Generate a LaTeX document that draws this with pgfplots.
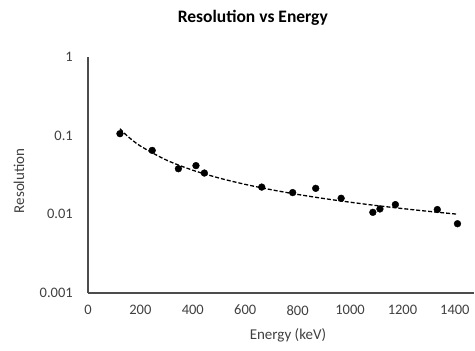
\documentclass[border=0pt]{standalone}
\usepackage{fontspec}
\setmainfont{Carlito}
\usepackage{pgfplots}
\pgfplotsset{compat=1.18}
\begin{document}
\begin{tikzpicture}
\path[use as bounding box] (-88pt,-58pt) rectangle (387pt,293pt);
\begin{axis}[
  at={(0,0)}, anchor=south west,
  scale only axis,
  width=386pt, height=236pt,
  xmin=0, xmax=1473,
  ymode=log, ymin=0.001, ymax=1,
  axis x line*=bottom, axis y line*=left,
  axis line style={draw=black!70, line width=1.2pt},
  every outer x axis line/.append style={-}, every outer y axis line/.append style={-},
  xtick={0,200,...,1400},
  ytick={0.001,0.01,0.1,1},
  yticklabels={0.001,0.01,0.1,1},
  minor ytick={},
  major tick length=0pt,
  tick style={draw=none},
  /pgf/number format/assume math mode=true,
  /pgf/number format/set thousands separator={},
  ticklabel style={font=\fontsize{14.5}{17}\selectfont, text=black!75},
  xticklabel style={anchor=north, inner sep=0pt, yshift=-12pt},
  yticklabel style={anchor=east, inner sep=0pt, xshift=-15pt},
  title={\textbf{Resolution vs Energy}},
  title style={font=\fontsize{17.5}{21}\selectfont, at={(axis description cs:0.427,1.14)}, anchor=center, inner sep=0pt},
  xlabel={Energy (keV)},
  xlabel style={font=\fontsize{15}{18}\selectfont, text=black!75, at={(axis description cs:0.518,-0.178)}, anchor=center, inner sep=0pt},
  ylabel={Resolution},
  ylabel style={font=\fontsize{15}{18}\selectfont, text=black!75, at={(axis description cs:-0.179,0.475)}, anchor=center, inner sep=0pt},
  clip=false,
]
\addplot[black, line width=1.3pt, smooth, dash pattern=on 4pt off 2pt] coordinates {
(122,0.1224) (150,0.09913) (200,0.07389) (300,0.04882) (400,0.03638) (500,0.02896) (600,0.02404) (700,0.02054) (800,0.01792) (900,0.01589) (1000,0.01427) (1100,0.01294) (1200,0.01184) (1300,0.01091) (1410,0.01004)
};
\addplot[only marks, mark=*, mark size=3.4pt, black] coordinates {
(122,0.106) (245,0.065) (345,0.038) (412,0.0416) (444,0.0335) (663,0.0222) (781,0.0189) (869,0.0214) (966,0.016) (1087,0.0106) (1114,0.0117) (1173,0.0133) (1333,0.0115) (1410,0.0076)
};
\end{axis}
\end{tikzpicture}
\end{document}
